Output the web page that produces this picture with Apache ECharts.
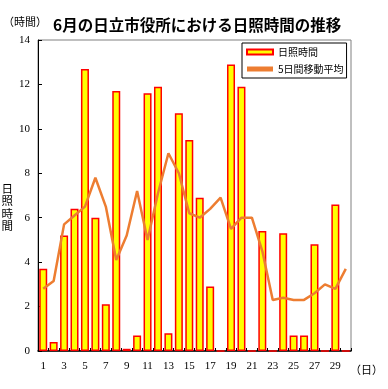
<!DOCTYPE html>
<html><head><meta charset="utf-8">
<script src="https://cdn.jsdelivr.net/npm/echarts@6/dist/echarts.min.js"></script>
<style>html,body{margin:0;padding:0;background:#fff}#c{width:388px;height:389px}</style>
</head><body><div id="c"></div>
<script>
var days = [];
for (var i = 1; i <= 30; i++) days.push(String(i));
var sunshine = [3.7,0.4,5.2,6.4,12.7,6.0,2.1,11.7,0.1,0.7,11.6,11.9,0.8,10.7,9.5,6.9,2.9,0,12.9,11.9,0,5.4,0,5.3,0.7,0.7,4.8,0,6.6,0];
var movingAvg = [2.8,3.15,5.7,6.1,6.5,7.8,6.5,4.1,5.2,7.2,5.0,7.1,8.9,8.0,6.2,6.0,6.4,6.9,5.5,6.0,6.0,4.5,2.3,2.4,2.3,2.3,2.6,3.0,2.8,3.7];
var yTicks = [0,2,4,6,8,10,12,14];

var serif = '"Liberation Serif","DejaVu Serif",serif';
var jp = '"Noto Sans CJK JP","Noto Sans",sans-serif';
var chart = echarts.init(document.getElementById('c'), null, {renderer:'canvas'});
chart.setOption({
  animation:false,
  title:{text:'6月の日立市役所における日照時間の推移',left:48,top:12,
    textStyle:{fontFamily:jp,fontSize:15.5,fontWeight:'bold',color:'#000'}},
  graphic:[
    {type:'text',x:3,y:16,style:{text:'（時間）',fontFamily:jp,fontSize:11,fill:'#000'}},
    {type:'text',x:350,y:364,style:{text:'（日）',fontFamily:jp,fontSize:11,fill:'#000'}}
  ],
  legend:{orient:'vertical',left:242,top:43,padding:[3,3,3,4],itemGap:5,
    itemWidth:26,itemHeight:5,borderColor:'#000',borderWidth:1,backgroundColor:'#fff',
    textStyle:{fontFamily:jp,fontSize:10,color:'#000',lineHeight:12},
    data:[{name:'日照時間',icon:'rect'},{name:'5日間移動平均',icon:'rect',itemStyle:{color:'#ED7D31',borderWidth:0}}]},
  grid:{left:38,right:37,top:40,bottom:38,show:true,borderColor:'#808080',borderWidth:1,outerBoundsMode:'none',containLabel:false},
  xAxis:{type:'category',data:days,boundaryGap:true,
    axisLine:{lineStyle:{color:'#000',width:1.5}},
    axisTick:{show:true,inside:true,length:3,interval:0,lineStyle:{color:'#000'}},
    axisLabel:{interval:1,margin:10,fontFamily:serif,fontSize:11,color:'#000'}},
  yAxis:{type:'value',min:0,max:14,interval:2,
    name:'{s|}\n日\n照\n時\n間',nameLocation:'middle',nameRotate:0,nameGap:29,
    nameTextStyle:{fontFamily:jp,fontSize:11.5,color:'#000',lineHeight:12.5,align:'center',rich:{s:{lineHeight:23,fontSize:11.5}}},
    axisLine:{show:true,lineStyle:{color:'#000',width:1}},
    axisTick:{show:true,inside:true,length:4,lineStyle:{color:'#000'}},
    splitLine:{show:false},
    axisLabel:{margin:8,fontFamily:serif,fontSize:11,color:'#000',
      formatter:function(v){return yTicks.indexOf(v)>=0?String(v):'';}}},
  series:[
    {name:'日照時間',type:'bar',data:sunshine,barWidth:8,
      itemStyle:{color:'#FFFF00',borderColor:'#FF0000',borderWidth:1.5}},
    {name:'5日間移動平均',type:'line',data:movingAvg,symbol:'none',
      lineStyle:{color:'#ED7D31',width:2.5},itemStyle:{color:'#ED7D31'}}
  ]
});
</script></body></html>
